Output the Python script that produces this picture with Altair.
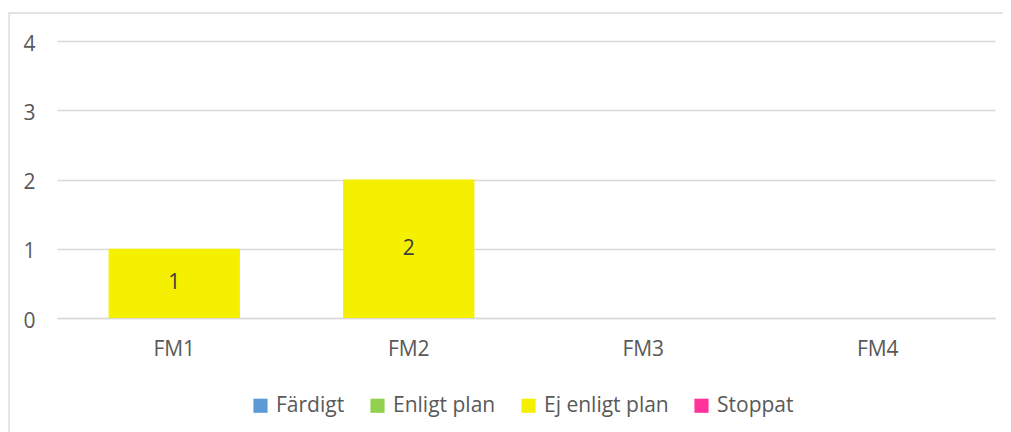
import altair as alt
import pandas as pd

categories = ["FM1", "FM2", "FM3", "FM4"]
series = ["Färdigt", "Enligt plan", "Ej enligt plan", "Stoppat"]
colors = ["#5B9BD5", "#92D050", "#F5EF00", "#FF3399"]
faerdigt = [0, 0, 0, 0]
enligt_plan = [0, 0, 0, 0]
ej_enligt_plan = [1, 2, 0, 0]
stoppat = [0, 0, 0, 0]

rows = []
for s, vals in zip(series, [faerdigt, enligt_plan, ej_enligt_plan, stoppat]):
    for c, v in zip(categories, vals):
        rows.append({"cat": c, "serie": s, "value": v, "order": series.index(s)})
df = pd.DataFrame(rows)

FONT = "Open Sans"
GRAY = "#595959"
FS = 21

x = alt.X("cat:N", sort=categories, title=None,
          scale=alt.Scale(paddingInner=0.44, paddingOuter=0.22),
          axis=alt.Axis(labelAngle=0, labelFontSize=FS, labelColor=GRAY, labelFont=FONT,
                        labelPadding=20, ticks=False, domainColor="#D9D9D9", domainWidth=1.3))
y = alt.Y("value:Q", stack="zero", title=None,
          scale=alt.Scale(domain=[0, 4], nice=False),
          axis=alt.Axis(values=[0, 1, 2, 3, 4], format="d", labelFontSize=FS, labelColor=GRAY,
                        labelFont=FONT, labelPadding=22, ticks=False, domain=False,
                        gridColor="#D9D9D9", gridWidth=1.3, labelOffset=3))

bars = alt.Chart(df).mark_bar().encode(
    x=x,
    y=y,
    color=alt.Color("serie:N", sort=series,
                    scale=alt.Scale(domain=series, range=colors),
                    legend=alt.Legend(title=None, orient="none", direction="horizontal",
                                      legendX=193, legendY=354, symbolType="square",
                                      symbolSize=200, symbolStrokeWidth=0, labelFontSize=FS,
                                      labelFont=FONT, labelColor=GRAY, labelOffset=5,
                                      columnPadding=22)),
    order=alt.Order("order:Q"),
)

labels = alt.Chart(df).transform_filter("datum.value > 0").transform_stack(
    stack="value", groupby=["cat"], as_=["v0", "v1"], sort=[alt.SortField("order")]
).transform_calculate(mid="(datum.v0 + datum.v1) / 2").mark_text(
    fontSize=FS, font=FONT, color="#404040", baseline="middle"
).encode(
    x=alt.X("cat:N", sort=categories),
    y=alt.Y("mid:Q"),
    text=alt.Text("value:Q", format="d"),
)

frame = alt.Chart(pd.DataFrame({"a": [0]})).mark_rect(
    fill=None, stroke="#D9D9D9", strokeWidth=1.3
).encode(
    x=alt.value(-48), x2=alt.value(1100), y=alt.value(-28), y2=alt.value(420)
)

chart = alt.layer(frame, bars, labels).properties(
    width=938, height=277,
    background="white",
    autosize=alt.AutoSizeParams(type="none"),
    padding={"left": 49, "top": 33, "right": 8, "bottom": 114},
).configure_view(strokeWidth=0, stroke="transparent")

chart.save("out.html", embed_options={"renderer": "svg", "actions": False})
